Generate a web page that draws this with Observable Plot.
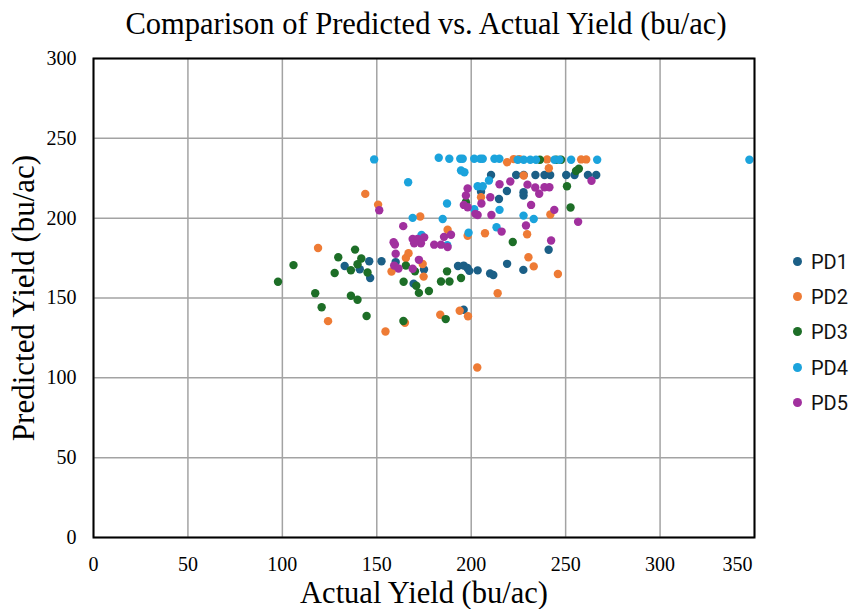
<!DOCTYPE html>
<html><head><meta charset="utf-8">
<script src="https://cdn.jsdelivr.net/npm/d3@7"></script>
<script src="https://cdn.jsdelivr.net/npm/@observablehq/plot@0.6"></script>
<style>
body{margin:0;background:#fff;}
#wrap{position:relative;width:852px;height:609px;overflow:hidden;}
#title{height:45px;font-family:"Liberation Serif","Times New Roman",serif;font-size:30.5px;text-align:center;line-height:48px;color:#000;white-space:nowrap;}
.lg{position:absolute;left:793px;height:24px;line-height:24px;font-family:Roboto,"Liberation Sans",sans-serif;font-size:20px;color:#111;white-space:nowrap;}
.lg span.d{display:inline-block;width:9px;height:9px;border-radius:50%;vertical-align:middle;margin-right:9px;position:relative;top:-2px;}
svg g[aria-label="x-axis label"] text{font-size:30.5px;}
svg g[aria-label="y-axis label"] text{font-size:31px;}
</style></head>
<body>
<div id="wrap">
<div id="title">Comparison of Predicted vs. Actual Yield (bu/ac)</div>
<div id="chart"></div>
</div>
<script>
const seriesNames = ["PD1","PD2","PD3","PD4","PD5"];
const seriesColors = ["#1b5f86","#ee7b35","#1d6e27","#1ba3dc","#a1309e"];
const xTicks = [0,50,100,150,200,250,300,350];
const yTicks = [0,50,100,150,200,250,300];

const pd1 = [[133,170],[141,168],[146,173],[152.5,173],[146.5,162.5],[160,172.5],[169.5,159],[175,167.8],[193,170],[196,170.3],[198,168.8],[199,167],[203.4,167.3],[210,165.4],[211.7,164.4],[219,171.4],[227.6,167.6],[241,180.2],[196,142.6],
 [210.5,227],[223.8,227],[227.8,227],[234,227],[238.8,227],[241.8,227],[250.3,227],[254.7,227],[261.8,227],[266.2,227],
 [205.2,216.5],[214.7,212],[218.9,217],[227.7,216.2],[227.7,214.2]];
const pd2 = [[118.9,181.3],[124.2,135.5],[143.9,215.2],[150.7,208.5],[154.6,129],[157.8,166.6],[164.9,134.5],[165.4,175.1],[166.8,178],[173,201],[174.3,171.3],[174.8,163.4],[183.6,139.5],[187.5,192.7],[193.9,142],[198.3,138.6],[198.1,189],[203.2,106.5],[205.2,213.1],[207.3,190.6],[214,153],[219,235],[222.5,237],[225.5,237],[227.8,226.7],[229.6,189.9],[230.3,175.5],[233.1,169.8],[240.2,236.8],[241.1,231.3],[241.9,202.3],[245.9,165],[258.2,236.8],[260.9,236.8]];
const pd3 = [[97.7,160.2],[105.9,170.6],[117.4,153],[120.8,144.2],[127.7,165.7],[129.6,175.5],[136.3,167.4],[136.3,151.4],[138.5,180.3],[139.8,171.1],[139.8,148.9],[141.8,174.7],[144.6,138.7],[145.1,166],[164.2,160.2],[164.1,135.6],[165.4,170.3],[170.2,166.7],[170.9,157.7],[172.3,153.2],[177.6,154.4],[184,160.3],[186.5,136.8],[187.2,166.7],[188.5,160.3],[194.6,162.5],[197.2,210],[222,185.1],[236.4,236.6],[245,236.6],[247.6,236.6],[250.7,220],[252.6,206.7],[255.5,229.5],[257,231]];
const pd4 = [[148.6,236.8],[166.6,222.5],[169,200.2],[173.7,189.5],[182.8,237.8],[184.9,199.5],[187.2,209.2],[187.3,183],[188.4,237.2],[194.2,237.2],[195.5,237.2],[194.6,229.9],[196.4,228.8],[198.6,190.9],[201.6,237.2],[201.6,205.6],[203.4,220],[204.8,237.2],[206.1,237.2],[206.1,220],[209.4,223.6],[212.3,237.2],[213.4,194.3],[214.9,237.2],[215,205.2],[224.6,236.6],[227.8,236.6],[227.7,201.6],[231.3,236.6],[233.1,199.5],[234.3,236.6],[244.1,236.6],[246.7,236.6],[252.9,236.6],[266.7,236.6],[347.3,236.6]];
const pd5 = [[151.3,205],[158.9,184.9],[159.6,183.5],[160,177.7],[159.2,170.3],[161.5,168.5],[164,195],[169,187],[171.6,187],[175.1,188],[173.4,184.3],[169.8,184.3],[172.3,173.9],[169,168.3],[180.4,183.4],[184,183.4],[185.6,188.3],[189.3,189.6],[187.5,181.9],[196.1,208.3],[198.1,206.8],[197.2,214.2],[198.1,218.6],[202.2,202.7],[203.4,202],[205.4,209.2],[210.1,213.1],[210.7,202],[215,221.2],[216.1,191.6],[220.7,223],[229,195.4],[229.8,221],[231.7,208.3],[233.9,219.2],[236,215.3],[238.8,219.4],[241.4,219.4],[242.3,186],[244,205.2],[256.6,197.7],[263.7,223.4]];

const seriesData = [pd1,pd2,pd3,pd4,pd5];
const data = seriesData.flatMap((arr,i)=>arr.map(([x,y])=>({x,y,s:seriesNames[i]})));

const chart = Plot.plot({
  width: 852, height: 564,
  marginLeft: 93, marginRight: 98, marginTop: 13, marginBottom: 72,
  style: {fontFamily: '"Liberation Serif","Times New Roman",serif', fontSize: "20px", color: "#000", background: "#fff"},
  x: {domain:[0,350], label: "Actual Yield (bu/ac)", labelAnchor:"center", labelOffset: 65, labelArrow:"none"},
  y: {domain:[0,300], ticks: yTicks, label: "Predicted Yield (bu/ac)", labelAnchor:"center", labelOffset: 82, tickSize:0, tickPadding:17, labelArrow:"none"},
  color: {domain: seriesNames, range: seriesColors},
  marks: [
    Plot.gridX(xTicks, {stroke:"#a3a3a3", strokeOpacity:1, strokeWidth:1.5}),
    Plot.gridY(yTicks, {stroke:"#a3a3a3", strokeOpacity:1, strokeWidth:1.5}),
    Plot.axisX(xTicks.slice(0, -1), {tickSize:0, tickPadding:19, label: "Actual Yield (bu/ac)", labelAnchor:"center", labelOffset:65, labelArrow:"none"}),
    Plot.axisX(xTicks.slice(-1), {tickSize:0, tickPadding:19, dx:-17, label: null}),
    Plot.dot(data, {x:"x", y:"y", fill:"s", r:4.2}),
    Plot.frame({stroke:"#000", strokeWidth:2})
  ]
});
document.getElementById("chart").appendChild(chart);

const wrap = document.getElementById("wrap");
const legendTop = [262, 297, 332, 368, 403];
seriesNames.forEach((n,i)=>{
  const d = document.createElement("div");
  d.className = "lg";
  d.style.top = (legendTop[i]-12)+"px";
  d.innerHTML = `<span class="d" style="background:${seriesColors[i]}"></span>${n}`;
  wrap.appendChild(d);
});
</script>
</body></html>
